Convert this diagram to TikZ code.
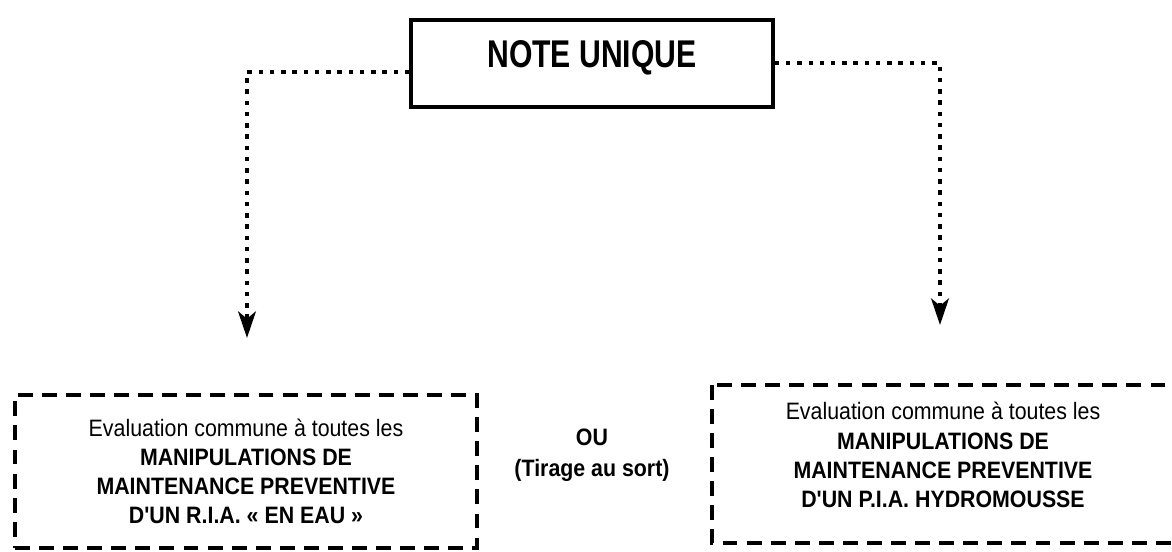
\documentclass[tikz,border=0pt]{standalone}
\usepackage{fontspec}
\setmainfont{Liberation Sans}
\newfontfamily\titlefont[FakeStretch=0.78]{Liberation Sans}
\newfontfamily\boxfont[FakeStretch=0.9]{Liberation Sans}
\usetikzlibrary{arrows.meta}

\begin{document}
\begin{tikzpicture}[
  >={Stealth[length=15pt,width=10pt,inset=4pt]},
  lien/.style={line width=2.5pt, dash pattern=on 2.5pt off 3.9pt},
  cadre/.style={line width=1.8pt, dash pattern=on 8.5pt off 5.2pt},
  texte/.style={align=center, font=\boxfont\fontsize{13.5}{16.6}\selectfont}
]
  \useasboundingbox (0,0) rectangle (23.44,-11.04);

  % Note unique
  \node[draw, line width=2pt, anchor=north, minimum width=7.24cm,
        text height=0.96cm, text depth=0.78cm, inner ysep=0pt,
        font=\titlefont\bfseries\fontsize{22}{26}\selectfont]
    (note) at (11.84,-0.36) {NOTE UNIQUE};

  % Pointes des fleches
  \coordinate (fg) at (4.94,-6.76);
  \coordinate (fd) at (18.80,-6.50);

  % Liaisons
  \draw[lien, ->] ([yshift=-0.17cm]note.west) -| (fg);
  \draw[lien, ->] (note.east) -| (fd);

  % Epreuve R.I.A.
  \node[draw, cadre, texte, minimum width=9.24cm, minimum height=3.06cm]
    (ria) at (4.92,-9.43)
    {Evaluation commune à toutes les\\
     \textbf{MANIPULATIONS DE}\\
     \textbf{MAINTENANCE PREVENTIVE}\\
     \textbf{D'UN R.I.A. « EN EAU »}};

  % Epreuve P.I.A.
  \draw[cadre] (14.24,-7.70) rectangle (23.80,-10.86);
  \node[texte] (pia) at (18.86,-9.10)
    {Evaluation commune à toutes les\\
     \textbf{MANIPULATIONS DE}\\
     \textbf{MAINTENANCE PREVENTIVE}\\
     \textbf{D'UN P.I.A. HYDROMOUSSE}};

  % Choix
  \node[texte, font=\boxfont\bfseries\fontsize{13.5}{17.5}\selectfont]
    (ou) at (11.84,-9.10) {OU\\(Tirage au sort)};

\end{tikzpicture}
\end{document}
